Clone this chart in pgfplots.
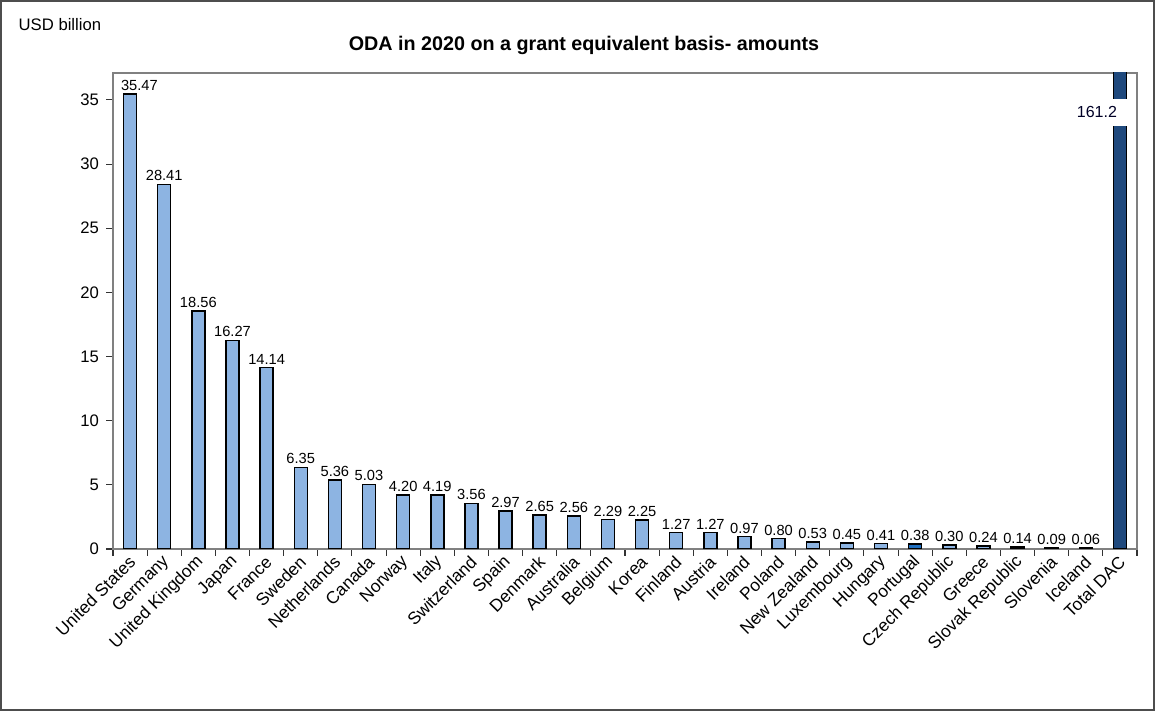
\documentclass[border=0pt]{standalone}
\usepackage{fontspec}
\setmainfont{Liberation Sans}
\usepackage{pgfplots}
\pgfplotsset{compat=1.18}
\definecolor{barlight}{HTML}{8DB4E2}
\definecolor{barmid}{HTML}{1F6FC0}
\definecolor{bardark}{HTML}{1F497D}
\definecolor{framegray}{HTML}{808080}

\begin{document}
\begin{tikzpicture}[x=0.75pt,y=0.75pt]
% page size and outer frame
\path (0,0) rectangle (1160,712);
\draw[framegray!60!black, line width=1.2pt] (1,2) rectangle (1154,711);
\node[anchor=west, font=\fontsize{12.5}{14}\selectfont] at (14,687) {USD billion};
\node[font=\bfseries\fontsize{14.8}{17}\selectfont] at (584,667) {ODA in 2020 on a grant equivalent basis- amounts};

\begin{axis}[
    at={(84.75pt,122.25pt)}, anchor=south west,
    scale only axis,
    width=768pt, height=357pt,
    ybar,
    xmin=-0.5, xmax=29.5,
    ymin=0, ymax=37.1,
    ytick={0,5,...,35},
    xtick={0,...,29},
    xticklabels={United States, Germany, United Kingdom, Japan, France, Sweden,
        Netherlands, Canada, Norway, Italy, Switzerland, Spain, Denmark, Australia,
        Belgium, Korea, Finland, Austria, Ireland, Poland, New Zealand, Luxembourg,
        Hungary, Portugal, Czech Republic, Greece, Slovak Republic, Slovenia,
        Iceland, Total DAC},
    minor xtick={-0.5,0.5,...,29.5},
    major x tick style={draw=none},
    tick align=outside,
    xtick pos=lower, ytick pos=left,
    major tick length=5pt,
    minor tick length=5pt,
    tick style={black!80, line width=0.8pt},
    axis line style={framegray, line width=1pt},
    /pgf/number format/assume math mode=true,
    yticklabel style={font=\fontsize{12.5}{14}\selectfont, xshift=-2pt},
    xticklabel style={font=\fontsize{13}{15}\selectfont, rotate=45, anchor=east,
        inner sep=1pt, xshift=0.5pt, yshift=-3pt},
    bar width=9.75pt,
    nodes near coords style={font=\fontsize{11}{13}\selectfont, black, inner sep=2pt},
]

% United States: its value sits a little to the right of the bar
\addplot[fill=barlight, draw=black, line width=1.1pt, bar shift=0pt,
    nodes near coords={\pgfmathprintnumber[fixed,fixed zerofill,precision=2]{\pgfplotspointmeta}},
    nodes near coords style={xshift=7pt}]
    coordinates {(0,35.47)};

\addplot[fill=barlight, draw=black, line width=1.1pt, bar shift=0pt,
    nodes near coords={\pgfmathprintnumber[fixed,fixed zerofill,precision=2]{\pgfplotspointmeta}}]
    coordinates {
    (1,28.41)(2,18.56)(3,16.27)(4,14.14)(5,6.35)(6,5.36)(7,5.03)
    (8,4.20)(9,4.19)(10,3.56)(11,2.97)(12,2.65)(13,2.56)(14,2.29)(15,2.25)
    (16,1.27)(17,1.27)(18,0.97)(19,0.80)(20,0.53)(21,0.45)(22,0.41)
    (24,0.30)(25,0.24)(26,0.14)(27,0.09)(28,0.06)
    };

\addplot[fill=barmid, draw=black, line width=1.1pt, bar shift=0pt,
    nodes near coords={\pgfmathprintnumber[fixed,fixed zerofill,precision=2]{\pgfplotspointmeta}}]
    coordinates {(23,0.38)};

\addplot[fill=bardark, draw=black, line width=1.1pt, bar shift=0pt]
    coordinates {(29,161.2)};

% break in the Total DAC bar with its value
\fill[white] (axis cs:28.15,33.0) rectangle (axis cs:29.3,35.1);
\node[anchor=east, font=\fontsize{12}{14}\selectfont, black!85!blue] at (axis cs:29.05,34.05) {161.2};
\end{axis}
\end{tikzpicture}
\end{document}
